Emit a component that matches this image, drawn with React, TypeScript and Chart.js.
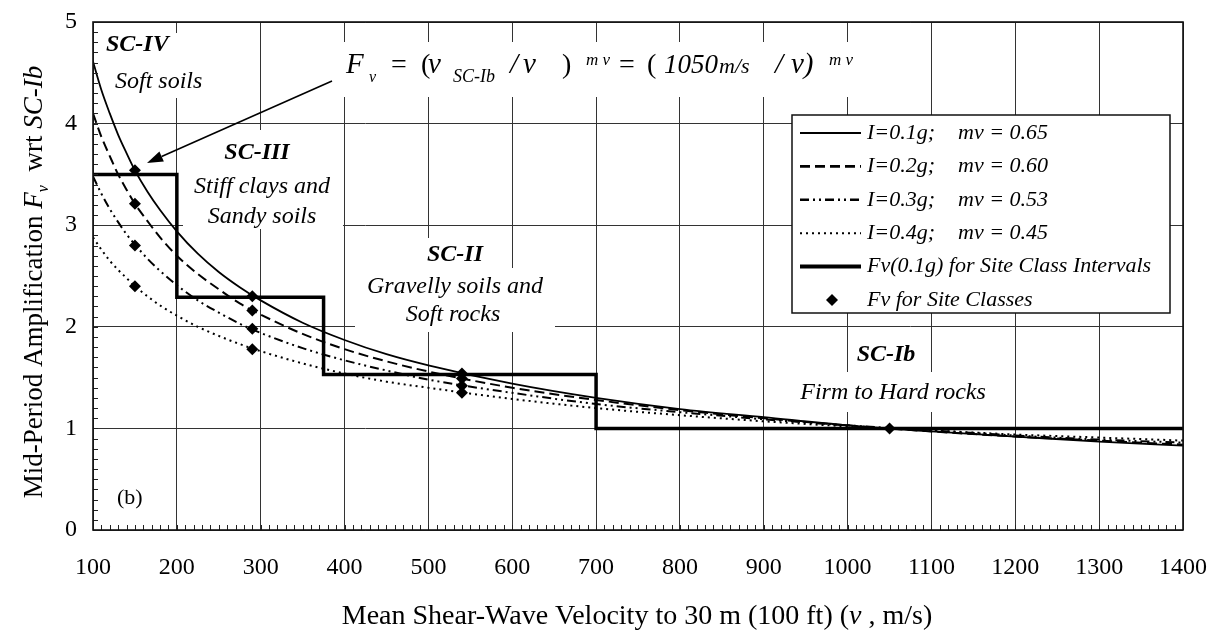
import React, { useEffect, useRef } from "react";
import { Chart, registerables } from "chart.js";

Chart.register(...registerables);

// ---------- data ----------
const velocity = [100, 110, 120, 130, 140, 150, 165, 180, 200, 225, 250, 275, 300, 350, 400, 450, 500, 600, 700, 800, 900, 1000, 1100, 1200, 1300, 1400];
const fvI01 = [4.61, 4.33, 4.10, 3.89, 3.71, 3.54, 3.33, 3.15, 2.94, 2.72, 2.54, 2.39, 2.26, 2.04, 1.87, 1.73, 1.62, 1.44, 1.30, 1.19, 1.11, 1.03, 0.97, 0.92, 0.87, 0.83];
const fvI02 = [4.10, 3.87, 3.68, 3.50, 3.35, 3.21, 3.04, 2.88, 2.70, 2.52, 2.37, 2.23, 2.12, 1.93, 1.78, 1.66, 1.56, 1.40, 1.28, 1.18, 1.10, 1.03, 0.97, 0.92, 0.88, 0.84];
const fvI03 = [3.48, 3.31, 3.16, 3.03, 2.91, 2.81, 2.67, 2.55, 2.41, 2.26, 2.14, 2.03, 1.94, 1.79, 1.67, 1.57, 1.48, 1.35, 1.24, 1.16, 1.09, 1.03, 0.98, 0.93, 0.89, 0.86];
const fvI04 = [2.88, 2.76, 2.65, 2.56, 2.48, 2.40, 2.30, 2.21, 2.11, 2.00, 1.91, 1.83, 1.76, 1.64, 1.54, 1.46, 1.40, 1.29, 1.20, 1.13, 1.07, 1.02, 0.98, 0.94, 0.91, 0.88];

const stepVelocity = [100, 200, 200, 375, 375, 700, 700, 1400];
const stepFv = [3.5, 3.5, 2.29, 2.29, 1.53, 1.53, 1.0, 1.0];

const siteVelocity = [150, 150, 150, 150, 290, 290, 290, 290, 540, 540, 540, 540, 1050];
const siteFv = [3.54, 3.21, 2.80, 2.40, 2.30, 2.16, 1.98, 1.78, 1.54, 1.49, 1.42, 1.35, 1.0];

const legendLabels = ["I=0.1g;", "I=0.2g;", "I=0.3g;", "I=0.4g;", "Fv(0.1g) for Site Class Intervals", "Fv for Site Classes"];
const legendMv = ["mv = 0.65", "mv = 0.60", "mv = 0.53", "mv = 0.45", "", ""];

const X_MIN = 100, X_MAX = 1400, Y_MIN = 0, Y_MAX = 5;

// ---------- styles ----------
const SERIF = "'Liberation Serif', 'Times New Roman', serif";
const DASH_02 = [10, 5];
const DASH_03 = [9, 4, 2, 4, 2, 4];
const DASH_04 = [2, 4];

const toXY = (xs: number[], ys: number[]) => xs.map((x, i) => ({ x, y: ys[i] }));

type Run = { t: string; x: number; font: string; dy?: number };

function drawRuns(ctx: CanvasRenderingContext2D, runs: Run[], baseY: number) {
  ctx.textAlign = "left";
  ctx.textBaseline = "alphabetic";
  for (const r of runs) {
    ctx.font = r.font;
    ctx.fillText(r.t, r.x, baseY + (r.dy || 0));
  }
}

function drawSeq(ctx: CanvasRenderingContext2D, runs: { t: string; font: string; dy?: number }[], x0: number, y: number) {
  let x = x0;
  ctx.textAlign = "left";
  ctx.textBaseline = "alphabetic";
  for (const r of runs) {
    ctx.font = r.font;
    ctx.fillText(r.t, x, y + (r.dy || 0));
    x += ctx.measureText(r.t).width;
  }
}

function seqWidth(ctx: CanvasRenderingContext2D, runs: { t: string; font: string }[]) {
  let w = 0;
  for (const r of runs) {
    ctx.font = r.font;
    w += ctx.measureText(r.t).width;
  }
  return w;
}

const zeroPadding = (s: any) => {
  s.paddingTop = 0;
  s.paddingBottom = 0;
  s.paddingLeft = 0;
  s.paddingRight = 0;
};

const annotationPlugin = {
  id: "annotations",
  beforeDatasetsDraw(chart: any) {
    const ctx: CanvasRenderingContext2D = chart.ctx;
    ctx.save();
    // white backgrounds behind annotation text (they hide grid lines)
    ctx.fillStyle = "#fff";
    const boxes = [
      [100, 33, 205, 98],
      [335, 42, 880, 97],
      [183, 130, 343, 229],
      [400, 238, 505, 268],
      [355, 268, 555, 332],
      [800, 372, 985, 412],
    ];
    for (const b of boxes) ctx.fillRect(b[0], b[1], b[2] - b[0], b[3] - b[1]);

    ctx.fillStyle = "#000";
    ctx.textBaseline = "middle";
    const bi = `italic bold 24px ${SERIF}`;
    const it = `italic 24px ${SERIF}`;
    const labels: [string, number, number, string, CanvasTextAlign][] = [
      ["SC-IV", 106, 45, bi, "left"],
      ["Soft soils", 115, 82, it, "left"],
      ["SC-III", 257, 153, bi, "center"],
      ["Stiff clays and", 262, 187, it, "center"],
      ["Sandy soils", 262, 217, it, "center"],
      ["SC-II", 455, 255, bi, "center"],
      ["Gravelly soils and", 455, 287, it, "center"],
      ["Soft rocks", 453, 315, it, "center"],
      ["SC-Ib", 886, 355, bi, "center"],
      ["Firm to Hard rocks", 893, 393, it, "center"],
      ["(b)", 117, 498, `22px ${SERIF}`, "left"],
    ];
    for (const [t, x, y, f, a] of labels) {
      ctx.font = f;
      ctx.textAlign = a;
      ctx.fillText(t, x, y);
    }

    // equation
    const big = `italic 29px ${SERIF}`;
    const reg = `28px ${SERIF}`;
    const sub = `italic 16px ${SERIF}`;
    const sup = `italic 17px ${SERIF}`;
    drawRuns(ctx, [
      { t: "F", x: 346, font: big },
      { t: "v", x: 369, font: sub, dy: 9 },
      { t: "=", x: 391, font: reg },
      { t: "(", x: 421, font: reg },
      { t: "v", x: 428, font: big },
      { t: "SC-Ib", x: 453, font: `italic 18px ${SERIF}`, dy: 9 },
      { t: "/", x: 510, font: big },
      { t: "v", x: 523, font: big },
      { t: ")", x: 562, font: reg },
      { t: "m v", x: 586, font: sup, dy: -8 },
      { t: "=", x: 619, font: reg },
      { t: "(", x: 647, font: reg },
      { t: "1050", x: 664, font: `italic 27px ${SERIF}` },
      { t: "m/s", x: 719, font: `italic 22px ${SERIF}` },
      { t: "/", x: 775, font: big },
      { t: "v)", x: 791, font: big },
      { t: "m v", x: 829, font: sup, dy: -8 },
    ], 73);
    ctx.restore();
  },
  afterDatasetsDraw(chart: any) {
    const ctx: CanvasRenderingContext2D = chart.ctx;
    const { left, right, top, bottom } = chart.chartArea;
    const xs = chart.scales.x;
    const ys = chart.scales.y;
    ctx.save();

    // arrow
    const ax0 = 332, ay0 = 81, ax1 = 147, ay1 = 163;
    ctx.strokeStyle = "#000";
    ctx.fillStyle = "#000";
    ctx.lineWidth = 1.6;
    ctx.setLineDash([]);
    const ang = Math.atan2(ay1 - ay0, ax1 - ax0);
    const hl = 16, hw = 5.5;
    const bx = ax1 - hl * Math.cos(ang), by = ay1 - hl * Math.sin(ang);
    ctx.beginPath();
    ctx.moveTo(ax0, ay0);
    ctx.lineTo(bx, by);
    ctx.stroke();
    ctx.beginPath();
    ctx.moveTo(ax1, ay1);
    ctx.lineTo(bx + hw * Math.sin(ang), by - hw * Math.cos(ang));
    ctx.lineTo(bx - hw * Math.sin(ang), by + hw * Math.cos(ang));
    ctx.closePath();
    ctx.fill();

    // minor ticks
    ctx.lineWidth = 1;
    ctx.strokeStyle = "#222";
    for (let i = 1; i < 130; i++) {
      const px = Math.round(xs.getPixelForValue(X_MIN + i * 10)) + 0.5;
      ctx.beginPath();
      ctx.moveTo(px, bottom);
      ctx.lineTo(px, bottom - 5);
      ctx.stroke();
    }
    for (let i = 1; i < 50; i++) {
      const py = Math.round(ys.getPixelForValue(Y_MIN + i * 0.1)) + 0.5;
      ctx.beginPath();
      ctx.moveTo(left, py);
      ctx.lineTo(left + 5, py);
      ctx.stroke();
    }

    // frame
    ctx.lineWidth = 1.6;
    ctx.strokeStyle = "#111";
    ctx.strokeRect(left, top, right - left, bottom - top);

    // legend
    const lx = 792, ly = 115, lw = 378, lh = 198;
    ctx.fillStyle = "#fff";
    ctx.fillRect(lx, ly, lw, lh);
    ctx.lineWidth = 1.5;
    ctx.strokeStyle = "#111";
    ctx.strokeRect(lx, ly, lw, lh);
    const styles = [
      { dash: [] as number[], w: 1.8 },
      { dash: DASH_02, w: 2.6 },
      { dash: DASH_03, w: 2.4 },
      { dash: DASH_04, w: 2 },
      { dash: [] as number[], w: 4 },
    ];
    ctx.fillStyle = "#000";
    for (let i = 0; i < legendLabels.length; i++) {
      const cy = 133 + i * 33.4;
      if (i < 5) {
        ctx.strokeStyle = "#000";
        ctx.lineWidth = styles[i].w;
        ctx.setLineDash(styles[i].dash);
        ctx.beginPath();
        ctx.moveTo(800, cy);
        ctx.lineTo(861, cy);
        ctx.stroke();
        ctx.setLineDash([]);
      } else {
        ctx.beginPath();
        ctx.moveTo(832, cy - 6);
        ctx.lineTo(838, cy);
        ctx.lineTo(832, cy + 6);
        ctx.lineTo(826, cy);
        ctx.closePath();
        ctx.fill();
      }
      ctx.font = `italic 22px ${SERIF}`;
      ctx.textAlign = "left";
      ctx.textBaseline = "middle";
      ctx.fillText(legendLabels[i], 867, cy);
      if (legendMv[i]) ctx.fillText(legendMv[i], 958, cy);
    }
    ctx.restore();
  },
  afterDraw(chart: any) {
    const ctx: CanvasRenderingContext2D = chart.ctx;
    ctx.save();
    ctx.fillStyle = "#000";
    // x title
    const r28 = `28px ${SERIF}`;
    const i28 = `italic 28px ${SERIF}`;
    const xRuns = [
      { t: "Mean Shear-Wave Velocity to 30 m (100 ft) (", font: r28 },
      { t: "v", font: i28 },
      { t: " , m/s)", font: r28 },
    ];
    const xw = seqWidth(ctx, xRuns);
    drawSeq(ctx, xRuns, 637 - xw / 2, 624);

    // y title (rotated)
    const r27 = `27px ${SERIF}`;
    const i27 = `italic 27px ${SERIF}`;
    const yRuns = [
      { t: "Mid-Period Amplification ", font: r27 },
      { t: "F", font: i27 },
      { t: "v", font: `italic 16px ${SERIF}`, dy: 6 },
      { t: "  wrt ", font: r27 },
      { t: "SC-Ib", font: i27 },
    ];
    const yw = seqWidth(ctx, yRuns);
    ctx.translate(42, 282);
    ctx.rotate(-Math.PI / 2);
    drawSeq(ctx, yRuns, -yw / 2, 0);
    ctx.restore();
  },
};

export default function App() {
  const ref = useRef<HTMLCanvasElement>(null);
  useEffect(() => {
    document.body.style.margin = "0";
    const canvas = ref.current!;
    const lineDs = (label: string, ys: number[], dash: number[], w: number) => ({
      label,
      data: toXY(velocity, ys),
      showLine: true,
      borderColor: "#000",
      backgroundColor: "#000",
      borderWidth: w,
      borderDash: dash,
      pointRadius: 0,
      cubicInterpolationMode: "monotone" as const,
    });
    const chart = new Chart(canvas, {
      type: "scatter",
      data: {
        datasets: [
          {
            label: "Fv for Site Classes",
            data: toXY(siteVelocity, siteFv),
            pointStyle: "rectRot",
            pointRadius: 6,
            backgroundColor: "#000",
            borderColor: "#000",
            borderWidth: 0,
            showLine: false,
          } as any,
          {
            label: "Fv(0.1g) for Site Class Intervals",
            data: toXY(stepVelocity, stepFv),
            showLine: true,
            borderColor: "#000",
            borderWidth: 3.5,
            pointRadius: 0,
            tension: 0,
          },
          lineDs("I=0.1g", fvI01, [], 1.8),
          lineDs("I=0.2g", fvI02, DASH_02, 2),
          lineDs("I=0.3g", fvI03, DASH_03, 2),
          lineDs("I=0.4g", fvI04, DASH_04, 2),
        ],
      },
      options: {
        responsive: false,
        animation: false,
        devicePixelRatio: 1,
        layout: { padding: { left: 0, top: 22, right: 37, bottom: 0 } },
        plugins: { legend: { display: false }, tooltip: { enabled: false } },
        events: [],
        scales: {
          x: {
            type: "linear",
            min: X_MIN,
            max: X_MAX,
            ticks: {
              stepSize: 100,
              color: "#000",
              font: { family: SERIF, size: 24 },
              padding: 23,
              maxRotation: 0,
              autoSkip: false,
              callback: (v: any) => String(v),
            },
            grid: { color: "#333", lineWidth: 1, drawTicks: false },
            border: { display: false },
            afterFit: (s: any) => {
              s.height = 102;
              zeroPadding(s);
            },
          },
          y: {
            type: "linear",
            min: Y_MIN,
            max: Y_MAX,
            ticks: {
              stepSize: 1,
              color: "#000",
              font: { family: SERIF, size: 24 },
              padding: 16,
              callback: (v: any) => String(v),
            },
            grid: { color: "#333", lineWidth: 1, drawTicks: false },
            border: { display: false },
            afterFit: (s: any) => {
              s.width = 93;
              zeroPadding(s);
            },
          },
        },
      },
      plugins: [annotationPlugin],
    });
    return () => chart.destroy();
  }, []);
  return (
    <canvas
      ref={ref}
      width={1220}
      height={632}
      style={{ display: "block", width: 1220, height: 632 }}
    />
  );
}
